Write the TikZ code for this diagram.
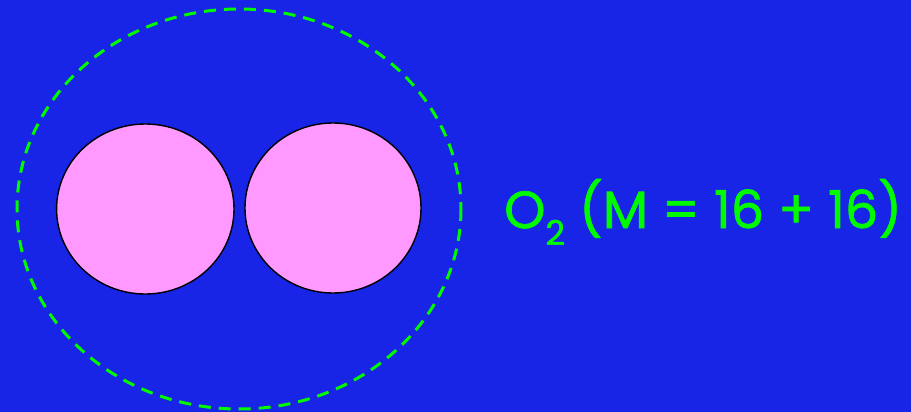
\documentclass[tikz,border=0pt]{standalone}
\usepackage{fontspec}
\setmainfont{Poppins}
\newfontfamily\labelfont{Poppins}[FakeBold=1.3]
\definecolor{bg}{RGB}{24,36,230}
\definecolor{lime}{RGB}{0,250,0}
\definecolor{pinkatom}{RGB}{255,153,255}
\begin{document}
\begin{tikzpicture}[x=1pt,y=-1pt,
  atom/.style={draw=black,line width=1.4pt,fill=pinkatom},
  shell/.style={draw=lime,line width=3pt,dash pattern=on 12pt off 8pt}]
\fill[bg] (0,0) rectangle (911,412);
\useasboundingbox (0,0) rectangle (911,412);
\draw[shell] (239,209) ellipse [x radius=222, y radius=200];
\draw[atom] (145.3,209) ellipse [x radius=88.7, y radius=85];
\draw[atom] (333,208) ellipse [x radius=88, y radius=85];
\node[text=lime,anchor=west,inner sep=0pt,font=\labelfont\fontsize{52.5}{60}\selectfont] (label) at (504,212) {O\raisebox{-0.32em}{\fontsize{34}{40}\selectfont 2} (M = 16 + 16)};
\end{tikzpicture}
\end{document}
